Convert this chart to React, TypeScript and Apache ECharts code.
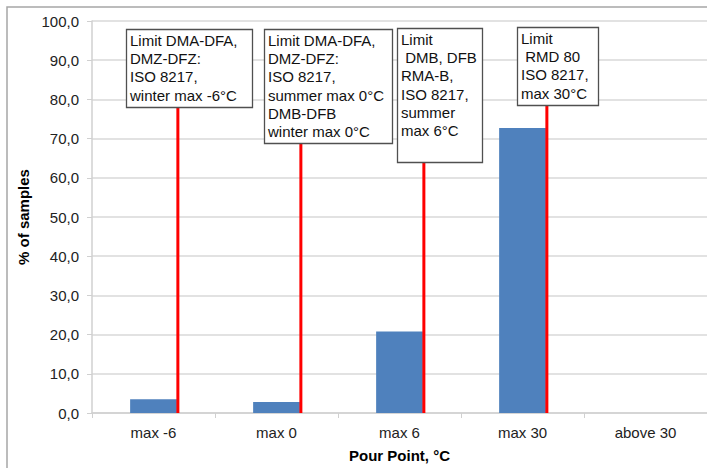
import React, { useEffect, useRef } from "react";
import * as echarts from "echarts";

const categories = ["max -6", "max 0", "max 6", "max 30", "above 30"];
const samplePercent = [3.5, 2.8, 20.8, 72.7, 0];
const limitCategoryIndex = [0, 1, 2, 3];
const limitTexts = [
  "Limit DMA-DFA,\nDMZ-DFZ:\nISO 8217,\nwinter max -6°C",
  "Limit DMA-DFA,\nDMZ-DFZ:\nISO 8217,\nsummer max 0°C\nDMB-DFB\nwinter max 0°C",
  "Limit\n DMB, DFB\nRMA-B,\nISO 8217,\nsummer\nmax 6°C",
  "Limit\n RMD 80\nISO 8217,\nmax 30°C",
];
const yTicks = { min: 0, max: 100, interval: 10 };

// layout of annotation boxes (offset of box left from the red line, width, top, height)
const boxLayout = [
  { dx: -52, w: 126, top: 29, h: 78 },
  { dx: -37, w: 128, top: 29, h: 114 },
  { dx: -27, w: 85, top: 28, h: 134 },
  { dx: -30, w: 81, top: 27, h: 78 },
];

const FONT = "'Liberation Sans', Arial, sans-serif";

export default function App() {
  const ref = useRef<HTMLDivElement>(null);
  useEffect(() => {
    document.body.style.margin = "0";
    const chart = echarts.init(ref.current!, null, { renderer: "svg" });
    const barFrac = 0.38;
    chart.setOption({
      animation: false,
      backgroundColor: "#ffffff",
      textStyle: { fontFamily: FONT },
      graphic: [
        {
          type: "rect",
          shape: { x: 7, y: 7, width: 720, height: 480 },
          style: { fill: "none", stroke: "#a6a6a6", lineWidth: 1.5 },
          z: -10,
        },
      ],
      grid: { left: 92, right: -1, top: 21, bottom: 55 },
      xAxis: {
        type: "category",
        data: categories,
        name: "Pour Point, °C",
        nameLocation: "middle",
        nameGap: 35,
        nameTextStyle: { fontSize: 15, fontWeight: "bold", color: "#000", fontFamily: FONT },
        axisLine: { lineStyle: { color: "#d0d0d0", width: 1.5 } },
        axisTick: { show: true, length: 5, lineStyle: { color: "#d0d0d0" } },
        axisLabel: { fontSize: 15, color: "#222", margin: 12, fontFamily: FONT },
      },
      yAxis: {
        type: "value",
        min: yTicks.min,
        max: yTicks.max,
        interval: yTicks.interval,
        name: "% of samples",
        nameLocation: "middle",
        nameGap: 56,
        nameTextStyle: { fontSize: 15, fontWeight: "bold", color: "#000", fontFamily: FONT },
        axisLine: { show: true, lineStyle: { color: "#d0d0d0", width: 1.5 } },
        axisTick: { show: true, inside: false, length: 5, lineStyle: { color: "#d0d0d0" } },
        axisLabel: {
          fontSize: 15,
          color: "#222",
          margin: 13,
          fontFamily: FONT,
          formatter: (v: number) => v.toFixed(1).replace(".", ","),
        },
        splitLine: { lineStyle: { color: "#d9d9d9", width: 1.5 } },
      },
      series: [
        {
          type: "bar",
          data: samplePercent,
          barWidth: barFrac * 100 + "%",
          itemStyle: { color: "#4f81bd" },
          z: 2,
        },
        {
          type: "custom",
          clip: false,
          z: 5,
          data: limitCategoryIndex.map((c, i) => [c, 0, i]),
          renderItem: (params: any, api: any) => {
            const idx = api.value(2);
            const base = api.coord([api.value(0), api.value(1)]);
            const band = api.size([1, 0])[0];
            const lx = base[0] + (band * barFrac) / 2 + 1;
            const b = boxLayout[idx];
            const bx = Math.round(lx + b.dx) + 0.5;
            return {
              type: "group",
              children: [
                {
                  type: "line",
                  shape: { x1: lx, y1: b.top + b.h, x2: lx, y2: base[1] },
                  style: { stroke: "#ff0000", lineWidth: 3 },
                },
                {
                  type: "rect",
                  shape: { x: bx, y: b.top + 0.5, width: b.w, height: b.h },
                  style: { fill: "#ffffff", stroke: "#505050", lineWidth: 1.3 },
                },
                {
                  type: "text",
                  x: bx + 3.5,
                  y: b.top + 2,
                  style: {
                    text: limitTexts[idx],
                    fill: "#111",
                    fontSize: 15,
                    fontFamily: FONT,
                    lineHeight: 18.3,
                    verticalAlign: "top",
                    align: "left",
                  },
                },
              ],
            };
          },
        },
      ],
    });
    return () => chart.dispose();
  }, []);
  return <div ref={ref} style={{ width: 707, height: 468 }} />;
}
